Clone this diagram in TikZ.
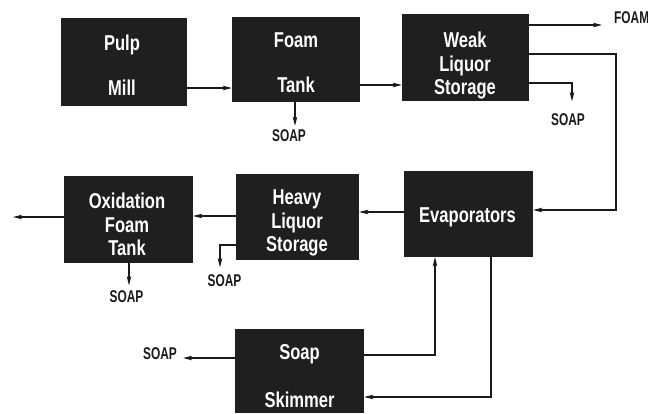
\documentclass[tikz,border=0pt]{standalone}
\usepackage{fontspec}
\usetikzlibrary{arrows.meta}
\newfontfamily\boxfont{Liberation Sans}[FakeStretch=0.77]
\newfontfamily\lblfont{Liberation Sans}[FakeStretch=0.7]
\definecolor{boxgray}{HTML}{1F1F1F}
\definecolor{ink}{HTML}{1A1A1A}
\tikzset{
  procbox/.style={fill=boxgray, draw=none, inner sep=0pt},
  btxt/.style={text=white, inner sep=0pt, align=center, anchor=north,
    font=\boxfont\bfseries\fontsize{21.5}{23.3}\selectfont},
  lbl/.style={text=ink, inner sep=0pt, font=\lblfont\bfseries\fontsize{17}{19}\selectfont},
  arr/.style={draw=ink, line width=1.1pt, -{Stealth[length=9pt,width=4.5pt,inset=2pt]}},
}
\begin{document}
\begin{tikzpicture}[x=1pt,y=-1pt]
\useasboundingbox[fill=white] (0,0) rectangle (648,413);
% boxes
\node[procbox, minimum width=126pt, minimum height=88pt] (pulp)  at (124,62) {};
\node[procbox, minimum width=128pt, minimum height=85pt] (foam)  at (296,59.5) {};
\node[procbox, minimum width=127pt, minimum height=87pt] (weak)  at (465.5,57.5) {};
\node[procbox, minimum width=129pt, minimum height=87pt] (oxid)  at (128.5,219.5) {};
\node[procbox, minimum width=123pt, minimum height=86pt] (heavy) at (297.5,217) {};
\node[procbox, minimum width=129pt, minimum height=86pt] (evap)  at (468.5,214) {};
\node[procbox, minimum width=129pt, minimum height=84pt] (skim)  at (299.5,371) {};
% box texts
\node[btxt] (pulpt)  at (122,35)  {Pulp\\[21.7pt]Mill};
\node[btxt] (foamt)  at (296,33)  {Foam\\[21.7pt]Tank};
\node[btxt] (weakt)  at (465,32)  {Weak\\Liquor\\Storage};
\node[btxt] (oxidt)  at (127,193) {Oxidation\\Foam\\Tank};
\node[btxt] (heavyt) at (297,190) {Heavy\\Liquor\\Storage};
\node[btxt] (evapt)  at (467.5,208) {Evaporators};
\node[btxt] (skimt)  at (299.5,344) {Soap\\[25pt]Skimmer};
% labels
\node[lbl, anchor=west] (foamout) at (614,18) {FOAM};
\node[lbl] (soapa) at (289,136)   {SOAP};
\node[lbl] (soapb) at (568,119.5) {SOAP};
\node[lbl] (soapc) at (126.5,296.5) {SOAP};
\node[lbl] (soapd) at (224.5,280.5) {SOAP};
\node[lbl] (soape) at (160,353.5) {SOAP};
% connectors
\draw[arr] (pulp.east |- 0,88) -- (foam.west |- 0,88);
\draw[arr] (foam.east |- 0,85) -- (weak.west |- 0,85);
\draw[arr, shorten >=12pt] (weak.east |- 0,25) -- (foamout.west |- 0,25);
\draw[arr] (weak.east |- 0,54) -- (616,54) -- (616,210) -- (evap.east |- 0,210);
\draw[arr, shorten >=12pt] (weak.east |- 0,83) -- (572,83) -- (soapb.north -| 572,0);
\draw[arr, shorten >=4pt] (foam.south -| 295,0) -- (soapa.north -| 295,0);
\draw[arr] (evap.west |- 0,212) -- (heavy.east |- 0,212);
\draw[arr] (heavy.west |- 0,216) -- (oxid.east |- 0,216);
\draw[arr] (oxid.west |- 0,217) -- (13,217);
\draw[arr, shorten >=5pt] (oxid.south -| 129,0) -- (soapc.north -| 129,0);
\draw[arr, shorten >=7pt] (heavy.west |- 0,245) -- (220,245) -- (soapd.north -| 220,0);
\draw[arr] (skim.east |- 0,355) -- (435,355) -- (evap.south -| 435,0);
\draw[arr] (evap.south -| 491,0) -- (491,397) -- (skim.east |- 0,397);
\draw[arr, shorten >=6pt] (skim.west |- 0,358) -- (soape.east |- 0,358);
\end{tikzpicture}
\end{document}
